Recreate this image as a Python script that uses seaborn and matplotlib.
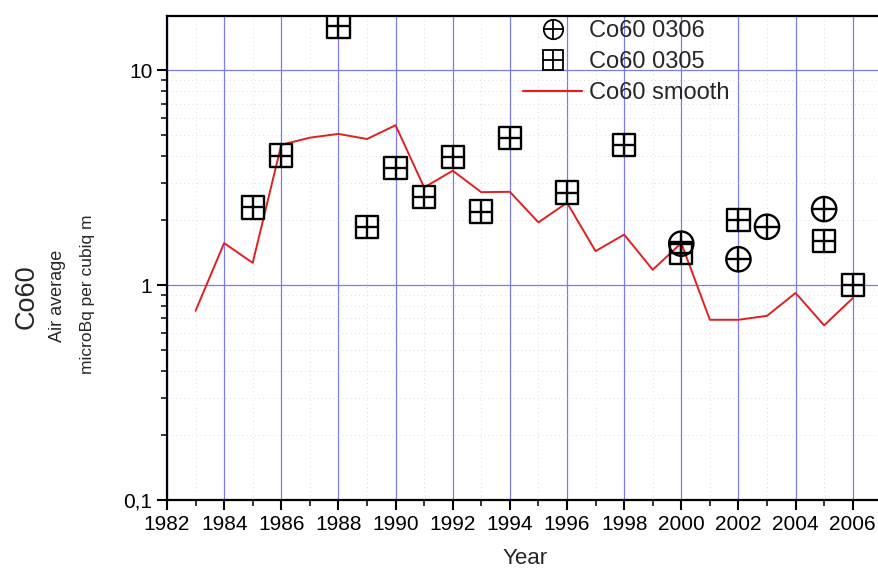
import numpy as np
import pandas as pd
import matplotlib.pyplot as plt
import matplotlib.ticker as mticker
from matplotlib.lines import Line2D
from matplotlib.legend_handler import HandlerTuple
import seaborn as sns

# data
years_smooth = list(range(1983, 2007))
co60_smooth = [0.76, 1.57, 1.27, 4.50, 4.86, 5.06, 4.79, 5.55, 2.85, 3.41, 2.71, 2.72,
               1.96, 2.42, 1.44, 1.72, 1.18, 1.57, 0.69, 0.69, 0.72, 0.92, 0.65, 0.87]

years_0305 = [1985, 1986, 1988, 1989, 1990, 1991, 1992, 1993, 1994, 1996, 1998, 2000, 2002, 2005, 2006]
co60_0305 = [2.30, 4.01, 16.0, 1.86, 3.50, 2.58, 3.96, 2.20, 4.86, 2.70, 4.50, 1.41, 2.01, 1.61, 1.00]

years_0306 = [2000, 2002, 2003, 2005]
co60_0306 = [1.56, 1.32, 1.87, 2.26]

sns.set_style("ticks")
plt.rcParams['font.family'] = ['Liberation Sans', 'DejaVu Sans']

fig = plt.figure(figsize=(8.79, 5.7), dpi=100)
ax = fig.add_axes([167/879, 70/570, 1 - 167/879, 484.5/570])

blue = '#7b7bf0'
red = '#e0201e'
ax.set_yscale('log')
ax.set_xlim(1982, 2006.92)
ax.set_ylim(0.1, 18)

ax.xaxis.set_major_locator(mticker.MultipleLocator(2))
ax.xaxis.set_minor_locator(mticker.MultipleLocator(1))
ax.yaxis.set_major_locator(mticker.FixedLocator([0.1, 1, 10]))
ax.yaxis.set_major_formatter(mticker.FixedFormatter(['0,1', '1', '10']))
ax.yaxis.set_minor_locator(mticker.LogLocator(base=10, subs=np.arange(2, 10)))
ax.yaxis.set_minor_formatter(mticker.NullFormatter())

ax.grid(which='major', color=blue, lw=0.9, zorder=0)
ax.grid(which='minor', color='#d0d0d0', lw=0.6, ls=(0, (1, 4)), zorder=0)
ax.set_axisbelow(True)

ax.tick_params(which='major', direction='out', length=7, width=1.5, labelsize=15, colors='black')
ax.tick_params(which='minor', direction='out', length=4, width=1.3)
for s in ['left', 'bottom', 'top']:
    ax.spines[s].set_linewidth(1.6)
    ax.spines[s].set_color('black')
ax.spines['right'].set_visible(False)

sns.lineplot(x=years_smooth, y=co60_smooth, color=red, lw=1.4, ax=ax, zorder=3)

ms = 16
sns.scatterplot(x=years_0305, y=co60_0305, marker='s', s=ms**2, facecolor='none',
                edgecolor='black', linewidth=1.7, ax=ax, zorder=4)
sns.scatterplot(x=years_0305, y=co60_0305, marker='+', s=ms**2, color='black',
                linewidth=1.7, ax=ax, zorder=4)
mc = 17.5
sns.scatterplot(x=years_0306, y=co60_0306, marker='o', s=mc**2, facecolor='none',
                edgecolor='black', linewidth=1.7, ax=ax, zorder=5)
sns.scatterplot(x=years_0306, y=co60_0306, marker='+', s=mc**2, color='black',
                linewidth=1.7, ax=ax, zorder=5)

ax.set_xlabel('')
ax.set_ylabel('')

h1 = (Line2D([], [], ls='none', marker='o', ms=14, mfc='none', mec='black', mew=1.3),
      Line2D([], [], ls='none', marker='+', ms=14, color='black', mew=1.3))
h2 = (Line2D([], [], ls='none', marker='s', ms=14, mfc='none', mec='black', mew=1.3),
      Line2D([], [], ls='none', marker='+', ms=14, color='black', mew=1.3))
h3 = Line2D([], [], color=red, lw=1.6)
ax.legend([h1, h2, h3], ['Co60 0306', 'Co60 0305', 'Co60 smooth'],
          handler_map={tuple: HandlerTuple(ndivide=1, pad=0)},
          loc='upper left', bbox_to_anchor=(523/879, 1 - 20/570),
          bbox_transform=fig.transFigure, frameon=False, fontsize=17,
          handlelength=2.5, handletextpad=0.3, labelspacing=0.38,
          borderpad=0, borderaxespad=0)

fig.text(525/879, 1 - 559/570, 'Year', ha='center', va='center', fontsize=16)
fig.text(27/879, 1 - 297/570, 'Co60', ha='center', va='center', rotation=90, fontsize=19.5)
fig.text(58/879, 1 - 296/570, 'Air average', ha='center', va='center', rotation=90, fontsize=13)
fig.text(88/879, 1 - 294/570, 'microBq per cubiq m', ha='center', va='center', rotation=90, fontsize=12.5)

fig.savefig('out.png', dpi=100)
